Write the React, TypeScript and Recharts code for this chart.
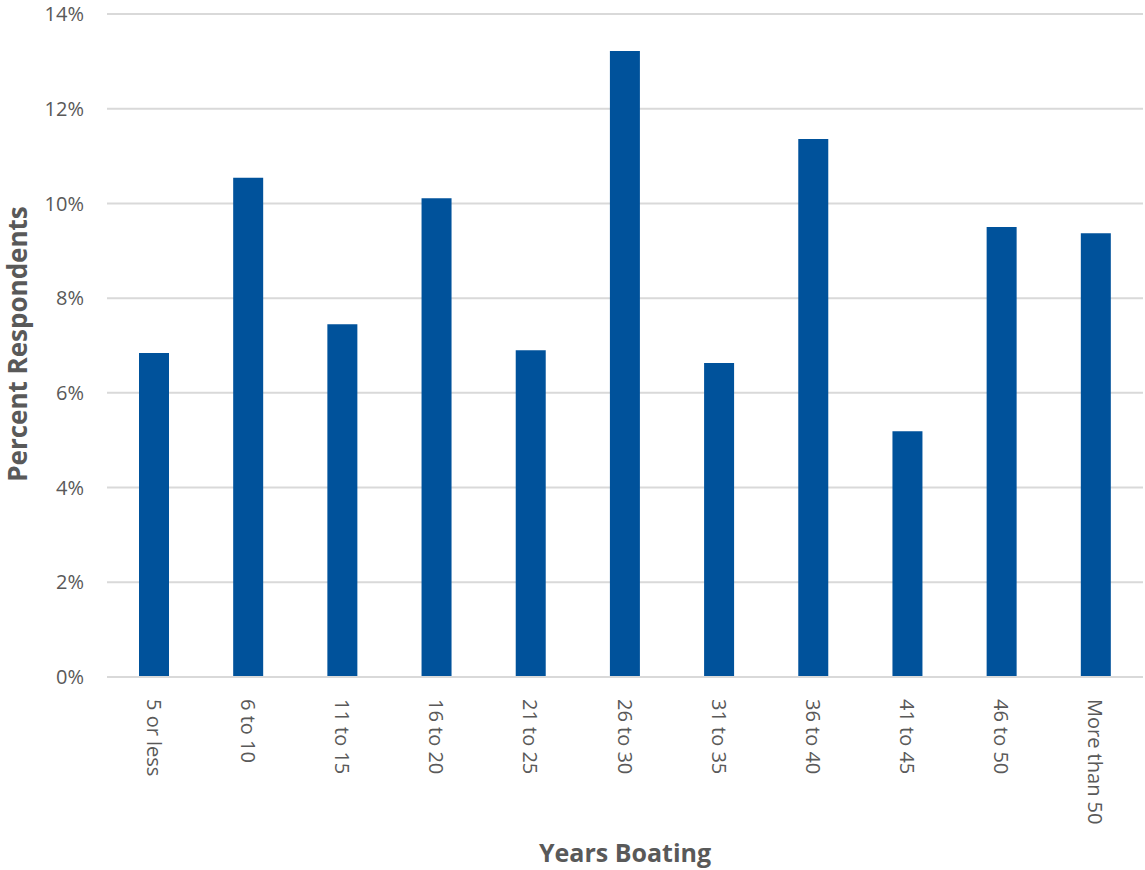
import React from 'react';
import { BarChart, Bar, XAxis, YAxis, CartesianGrid } from 'recharts';

const categories = ['5 or less', '6 to 10', '11 to 15', '16 to 20', '21 to 25', '26 to 30', '31 to 35', '36 to 40', '41 to 45', '46 to 50', 'More than 50'];
const percentValues = [6.84, 10.54, 7.45, 10.11, 6.9, 13.22, 6.63, 11.36, 5.19, 9.5, 9.37];
const yTicks = [0, 2, 4, 6, 8, 10, 12, 14];

const data = categories.map((c, i) => ({ category: c, value: percentValues[i] }));

const FONT = '"Open Sans", "Segoe UI", sans-serif';
const TEXT = '#595959';

const XTick = (props: any) => {
  const { x, y, payload } = props;
  return (
    <text
      x={0}
      y={0}
      transform={`translate(${x},${y + 14}) rotate(90)`}
      textAnchor="start"
      dominantBaseline="central"
      fill={TEXT}
      fontFamily={FONT}
      fontSize={20}
    >
      {payload.value}
    </text>
  );
};

const YTitle = () => (
  <text
    x={0}
    y={0}
    transform="translate(17,344) rotate(-90)"
    textAnchor="middle"
    dominantBaseline="central"
    fill={TEXT}
    fontFamily={FONT}
    fontSize={26}
    fontWeight={700}
  >
    Percent Respondents
  </text>
);

export default function App() {
  return (
    <div style={{ position: 'absolute', left: 0, top: 0, width: 1145, height: 870, background: '#fff' }}>
      <BarChart
        width={1145}
        height={870}
        data={data}
        margin={{ top: 14, right: 2, left: 0, bottom: 0 }}
      >
        <CartesianGrid vertical={false} stroke="#D9D9D9" strokeWidth={2} />
        <XAxis
          dataKey="category"
          height={193}
          tickLine={false}
          axisLine={{ stroke: '#D9D9D9', strokeWidth: 2 }}
          tick={<XTick />}
          interval={0}
          label={{
            value: 'Years Boating',
            position: 'insideBottom',
            offset: 8,
            fill: TEXT,
            fontFamily: FONT,
            fontSize: 25,
            fontWeight: 700,
          }}
        />
        <YAxis
          width={107}
          domain={[0, 14]}
          ticks={yTicks}
          tickFormatter={(v: number) => `${v}%`}
          axisLine={false}
          tickLine={false}
          tickSize={0}
          tickMargin={23}
          tick={{ fill: TEXT, fontFamily: FONT, fontSize: 20 }}
          label={<YTitle />}
        />
        <Bar dataKey="value" fill="#00529B" barSize={30} isAnimationActive={false} />
      </BarChart>
    </div>
  );
}
